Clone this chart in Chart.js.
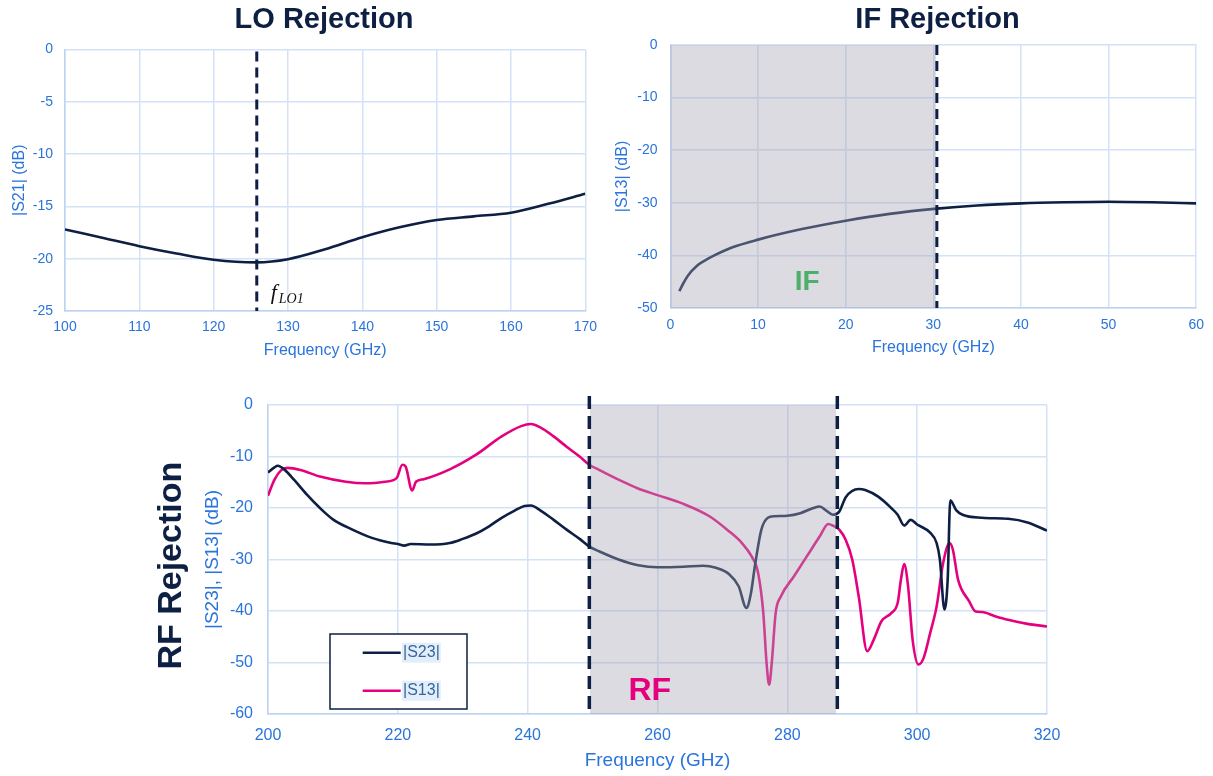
<!DOCTYPE html>
<html><head><meta charset="utf-8">
<script src="https://cdn.jsdelivr.net/npm/chart.js@4.4.1/dist/chart.umd.min.js"></script>
<style>
html,body{margin:0;padding:0;background:#fff;width:1213px;height:776px;overflow:hidden;}
.box{position:absolute;}
</style></head><body>
<div class="box" style="left:0;top:0;width:605px;height:364px"><canvas id="lo"></canvas></div>
<div class="box" style="left:605px;top:0;width:608px;height:361px"><canvas id="if"></canvas></div>
<div class="box" style="left:0;top:370px;width:1213px;height:406px"><canvas id="rf"></canvas></div>
<script>
// ---- LO rejection data ----
const loFreq = [100,105,110,115,120,125.8,130,135,140,145,150,155,160,165,170];
const loS21  = [-17.2,-18.0,-18.8,-19.5,-20.1,-20.35,-20.05,-19.1,-17.95,-17.0,-16.3,-15.95,-15.6,-14.75,-13.8];
const loMarker = 125.8;

// ---- IF rejection data ----
const ifFreq = [1,1.5,2,3,4,5,7,10,15,20,25,30.4,35,40,45,50,55,60];
const ifS13  = [-46.8,-45.2,-43.8,-42.0,-40.9,-40.0,-38.5,-37.0,-35.0,-33.4,-32.1,-31.1,-30.5,-30.1,-29.9,-29.8,-29.9,-30.1];
const ifMarker = 30.4;
const ifBand = [0, 30.3];

// ---- RF rejection data ----
const rfS23Freq = [200,201,201.5,202.5,204,206,208,210,213,216,219,220,221,222,225,228,230,232,234,236,238,239.5,240.5,242,244,246,248,249.5,251,254,257,260,264,267,269,271,272.5,273.7,274.4,275,276,277,278,280,282,284,285,286,287,288,289,291,292,294,296,297,298,299,300,302,303,303.5,304.2,304.7,305.1,306,307,310,314,317,320];
const rfS23 = [-13.1,-12.1,-11.8,-12.5,-14.5,-17.4,-20.0,-22.2,-24.2,-25.8,-26.8,-27.0,-27.3,-27.0,-27.1,-26.8,-26.0,-25.0,-23.6,-21.9,-20.5,-19.6,-19.5,-20.5,-22.3,-24.2,-26.0,-27.5,-28.4,-30.0,-31.1,-31.5,-31.4,-31.2,-31.6,-32.8,-35.2,-39.4,-36.5,-31.3,-24.2,-21.9,-21.6,-21.5,-21.0,-20.0,-19.7,-20.5,-21.3,-20.7,-17.9,-16.3,-16.5,-17.8,-20.0,-21.3,-23.4,-22.3,-23.2,-24.8,-26.8,-30.0,-39.7,-33.9,-18.5,-20.4,-21.3,-21.9,-22.1,-22.8,-24.4];
const rfS13Freq = [200,201,202,203,205,208,212,215,218,219.8,220.7,221.2,222.2,222.8,224,228,232,236,239,240.5,242,244,246,248,249.5,251,254,257,260,264,268,271,273,274.5,275.5,276.3,276.8,277.2,277.6,278.2,279,281,283,285,286.3,287,288,289,290,291,292.3,293.3,294.5,296,297,297.5,298,298.6,299.3,300.2,301,302,303,304,305,305.5,306.3,308,309,310,312,314,317,320];
const rfS13 = [-17.6,-14.5,-12.7,-12.2,-12.6,-13.9,-14.9,-15.2,-14.9,-14.2,-11.6,-11.95,-16.6,-14.9,-14.4,-12.5,-9.7,-6.1,-4.1,-3.7,-4.4,-6.1,-8.1,-10.0,-11.6,-12.6,-14.5,-16.2,-17.5,-19.2,-21.6,-24.5,-26.8,-29.4,-32.6,-40.4,-50.1,-54.3,-50.1,-40.4,-37.2,-33.3,-29.4,-25.5,-23.1,-23.4,-24.2,-26.2,-30.0,-37.2,-47.8,-45.6,-42.0,-40.4,-38.4,-33.9,-30.9,-35.2,-45.6,-50.4,-49.1,-44.3,-39.1,-30.7,-26.8,-28.1,-33.9,-38.1,-40.1,-40.2,-41.0,-41.7,-42.5,-43.0];
const rfMarkers = [249.5, 287.7];
const rfBand = [249.6, 287.5];
const rfLabels = ['|S23|', '|S13|'];

const NAVY = '#0d1f42', MAG = '#e5007d', BLUE = '#2a74dc', GRID = '#d3e2f6', BORDER = '#bcd3f2';
const SHADE = 'rgba(168,166,180,0.4)';
const FONT = '"Liberation Sans", Arial, sans-serif';
Chart.defaults.font.family = FONT;

const pts = (xs, ys) => xs.map((x, i) => ({x, y: ys[i]}));

function xAxis(min, max, step, fs, pad, tfs, h) {
  return {type:'linear', position:'bottom', min, max,
    ticks:{stepSize:step, color:BLUE, font:{size:fs}, padding:pad, maxRotation:0, autoSkip:false},
    grid:{color:GRID, lineWidth:1.5, drawTicks:false},
    border:{color:BORDER, width:1.5},
    title:{display:true, text:'Frequency (GHz)', color:BLUE, font:{size:tfs}, padding:{top:4,bottom:4}},
    afterFit: s => { s.height = h; }};
}
function yAxis(min, max, step, fs, pad, title, tfs, w) {
  return {type:'linear', position:'left', min, max,
    ticks:{stepSize:step, color:BLUE, font:{size:fs}, padding:pad},
    grid:{color:GRID, lineWidth:1.5, drawTicks:false},
    border:{color:BORDER, width:1.5},
    title:{display:true, text:title, color:BLUE, font:{size:tfs}, padding:{top:4,bottom:4}},
    afterFit: s => { s.width = w; }};
}
function line(label, data, color) {
  return {label, data, borderColor:color, backgroundColor:color, borderWidth:2.6,
    pointRadius:0, cubicInterpolationMode:'monotone', fill:false};
}
function vDash(ctx, px, top, bottom, dash, w) {
  ctx.save();
  ctx.setLineDash(dash);
  ctx.lineWidth = w;
  ctx.strokeStyle = NAVY;
  ctx.beginPath(); ctx.moveTo(px, top); ctx.lineTo(px, bottom); ctx.stroke();
  ctx.restore();
}
function shade(chart, from, to) {
  const {ctx, chartArea:a, scales:{x}} = chart;
  const x0 = Math.max(a.left, x.getPixelForValue(from)), x1 = x.getPixelForValue(to);
  ctx.save(); ctx.fillStyle = SHADE; ctx.fillRect(x0, a.top, x1 - x0, a.bottom - a.top); ctx.restore();
}
function text(ctx, s, x, y, font, color, align='center', rot=0) {
  ctx.save();
  ctx.translate(x, y); ctx.rotate(rot);
  ctx.font = font; ctx.fillStyle = color; ctx.textAlign = align; ctx.textBaseline = 'middle';
  ctx.fillText(s, 0, 0);
  ctx.restore();
}
const base = {responsive:true, maintainAspectRatio:false, animation:false,
  plugins:{legend:{display:false}, tooltip:{enabled:false}}};

// LO chart
new Chart(document.getElementById('lo'), {
  type:'line',
  data:{datasets:[line('|S21|', pts(loFreq, loS21), NAVY)]},
  options:Object.assign({}, base, {
    layout:{padding:{left:6.4, top:49.5, right:18, bottom:0}},
    scales:{x:xAxis(100,170,10,14,8,16,53), y:yAxis(-25,0,5,14,12,'|S21| (dB)',16,58.6)}
  }),
  plugins:[{id:'loDecor', afterDraw(chart){
    const {ctx, chartArea:a, scales:{x}} = chart;
    const px = x.getPixelForValue(loMarker);
    vDash(ctx, px, a.top + 2, a.bottom, [10,6], 3);
    text(ctx, 'LO Rejection', 324, 20, 'bold 29px ' + FONT, NAVY);
    ctx.save(); ctx.fillStyle = '#111'; ctx.textBaseline = 'alphabetic'; ctx.textAlign = 'left';
    ctx.font = 'italic 22px "Liberation Serif", serif'; ctx.fillText('f', px + 14, a.bottom - 12);
    ctx.font = 'italic 14px "Liberation Serif", serif'; ctx.fillText('LO1', px + 22, a.bottom - 8);
    ctx.restore();
  }}]
});

// IF chart
new Chart(document.getElementById('if'), {
  type:'line',
  data:{datasets:[line('|S13|', pts(ifFreq, ifS13), NAVY)]},
  options:Object.assign({}, base, {
    layout:{padding:{left:4.4, top:45, right:14, bottom:0}},
    scales:{x:xAxis(0,60,10,14,9,16,53), y:yAxis(-50,0,10,14,13,'|S13| (dB)',16,61.1)}
  }),
  plugins:[{id:'ifDecor', afterDraw(chart){
    const {ctx, chartArea:a, scales:{x, y}} = chart;
    shade(chart, ifBand[0], ifBand[1]);
    vDash(ctx, x.getPixelForValue(ifMarker), a.top, a.bottom, [10,6], 3);
    text(ctx, 'IF', x.getPixelForValue(15.6), y.getPixelForValue(-45.1), 'bold 28px ' + FONT, '#4fae6c');
    text(ctx, 'IF Rejection', 332.5, 20, 'bold 29px ' + FONT, NAVY);
  }}]
});

// RF chart
new Chart(document.getElementById('rf'), {
  type:'line',
  data:{datasets:[line(rfLabels[0], pts(rfS23Freq, rfS23), NAVY), line(rfLabels[1], pts(rfS13Freq, rfS13), MAG)]},
  options:Object.assign({}, base, {
    layout:{padding:{left:197.6, top:35, right:166, bottom:0}},
    scales:{x:xAxis(200,320,20,16,12,19,62), y:yAxis(-60,0,10,16,15,'|S23|, |S13| (dB)',19,70.4)}
  }),
  plugins:[{id:'rfDecor', afterDraw(chart){
    const {ctx, chartArea:a, scales:{x, y}} = chart;
    shade(chart, rfBand[0], rfBand[1]);
    rfMarkers.forEach(m => vDash(ctx, x.getPixelForValue(m), a.top - 9, a.bottom, [13,7], 3.5));
    text(ctx, 'RF', x.getPixelForValue(258.8), y.getPixelForValue(-55.5), 'bold 32px ' + FONT, MAG);
    text(ctx, 'RF Rejection', 171.7, 195.7, 'bold 34px ' + FONT, NAVY, 'center', -Math.PI/2);
    // legend box
    ctx.save();
    ctx.fillStyle = '#fff'; ctx.fillRect(330, 264, 137, 75);
    ctx.lineWidth = 1.5; ctx.strokeStyle = NAVY; ctx.strokeRect(330, 264, 137, 75);
    chart.data.datasets.forEach((ds, i) => {
      const ly = 282.7 + i * 38;
      ctx.strokeStyle = ds.borderColor; ctx.lineWidth = 2.6;
      ctx.beginPath(); ctx.moveTo(362.7, ly); ctx.lineTo(400.7, ly); ctx.stroke();
      ctx.font = '16px ' + FONT;
      const w = ctx.measureText(ds.label).width;
      ctx.fillStyle = '#e4eefa'; ctx.fillRect(402, ly - 10, w + 2, 20);
      ctx.fillStyle = '#35679e'; ctx.textAlign = 'left'; ctx.textBaseline = 'middle';
      ctx.fillText(ds.label, 403, ly);
    });
    ctx.restore();
  }}]
});
</script>
</body></html>
